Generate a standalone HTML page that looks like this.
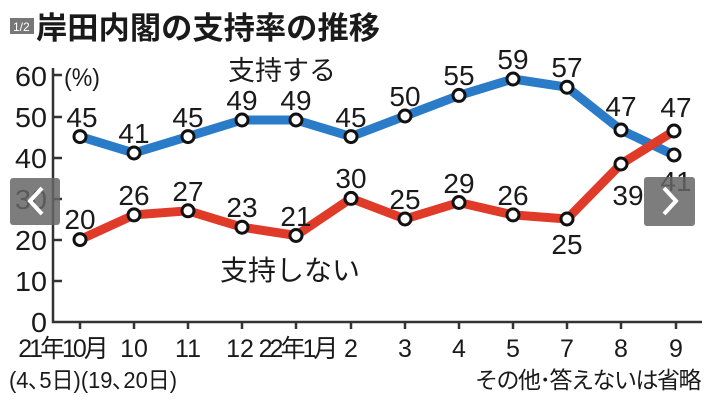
<!DOCTYPE html>
<html><head><meta charset="utf-8"><style>
body{margin:0;background:#fff;width:704px;height:401px;overflow:hidden}
text{font-family:"Liberation Sans","Noto Sans CJK JP",sans-serif;fill:#1a1a1a}
.j{font-family:"Liberation Sans","Noto Sans CJK JP",sans-serif}
</style></head><body>
<svg width="704" height="401" viewBox="0 0 704 401">
<text x="36" y="39" class="j" font-size="31" font-weight="bold" fill="#1a1a1a" textLength="344" lengthAdjust="spacingAndGlyphs">岸田内閣の支持率の推移</text>
<rect x="10" y="18" width="24" height="16" fill="#777"/><text x="13" y="31" font-size="12" style="fill:#fff">1/2</text>
<g stroke="#333" stroke-width="2.5" fill="none">
<path d="M53 68 V322 H702"/>
<path d="M53 75 H62 M53 117 H62 M53 158 H62 M53 199 H62 M53 240 H62 M53 281 H62"/>
<path d="M80 322v7M134 322v7M188 322v7M242 322v7M296 322v7M351 322v7M405 322v7M459 322v7M513 322v7M567 322v7M621 322v7M676 322v7"/>
</g>
<g font-size="28" text-anchor="end">
<text x="47" y="86" textLength="32" lengthAdjust="spacingAndGlyphs">60</text><text x="47" y="127" textLength="32" lengthAdjust="spacingAndGlyphs">50</text><text x="47" y="168" textLength="32" lengthAdjust="spacingAndGlyphs">40</text><text x="47" y="209" textLength="32" lengthAdjust="spacingAndGlyphs">30</text><text x="47" y="250" textLength="32" lengthAdjust="spacingAndGlyphs">20</text><text x="47" y="291" textLength="32" lengthAdjust="spacingAndGlyphs">10</text><text x="47" y="332" textLength="16" lengthAdjust="spacingAndGlyphs">0</text>
</g>
<text x="64" y="86" font-size="25" textLength="36" lengthAdjust="spacingAndGlyphs">(%)</text>
<text x="228" y="80" class="j" font-size="27">支持する</text>
<text x="220" y="280" class="j" font-size="28">支持しない</text>
<polyline fill="none" stroke="#2a7bc8" stroke-width="9" stroke-linejoin="round" points="80,136.6 134,153 188,136.6 242,120 296,120 351,136.6 405,116 459,95.4 513,79 567,87.2 621,130 674,155"/>
<polyline fill="none" stroke="#e03a28" stroke-width="9" stroke-linejoin="round" points="80,239.6 134,214.9 188,210.8 242,227.2 296,235.5 351,198.4 405,219 459,202.5 513,214.9 567,219 621,164 674,131"/>
<g fill="#fff" stroke="#111" stroke-width="3">
<circle cx="80" cy="136.6" r="6"/><circle cx="134" cy="153" r="6"/><circle cx="188" cy="136.6" r="6"/><circle cx="242" cy="120" r="6"/><circle cx="296" cy="120" r="6"/><circle cx="351" cy="136.6" r="6"/><circle cx="405" cy="116" r="6"/><circle cx="459" cy="95.4" r="6"/><circle cx="513" cy="79" r="6"/><circle cx="567" cy="87.2" r="6"/><circle cx="621" cy="130" r="6"/><circle cx="674" cy="155" r="6"/>
<circle cx="80" cy="239.6" r="6"/><circle cx="134" cy="214.9" r="6"/><circle cx="188" cy="210.8" r="6"/><circle cx="242" cy="227.2" r="6"/><circle cx="296" cy="235.5" r="6"/><circle cx="351" cy="198.4" r="6"/><circle cx="405" cy="219" r="6"/><circle cx="459" cy="202.5" r="6"/><circle cx="513" cy="214.9" r="6"/><circle cx="567" cy="219" r="6"/><circle cx="621" cy="164" r="6"/><circle cx="674" cy="131" r="6"/>
</g>
<g font-size="28" text-anchor="middle">
<text x="82" y="127">45</text><text x="134" y="143">41</text><text x="188" y="127">45</text><text x="242" y="110">49</text><text x="296" y="110">49</text><text x="351" y="127">45</text><text x="405" y="106">50</text><text x="459" y="85">55</text><text x="513" y="69">59</text><text x="567" y="77">57</text><text x="621" y="116">47</text><text x="676" y="191">41</text>
<text x="80" y="229">20</text><text x="134" y="205">26</text><text x="188" y="201">27</text><text x="242" y="217">23</text><text x="296" y="226">21</text><text x="351" y="188">30</text><text x="405" y="209">25</text><text x="459" y="193">29</text><text x="513" y="205">26</text><text x="567" y="254">25</text><text x="628" y="205">39</text><text x="676" y="117">47</text>
</g>
<g font-size="25" text-anchor="middle">
<text x="62" y="357" class="j" letter-spacing="-3">21年10月</text><text x="134" y="357">10</text><text x="188" y="357">11</text><text x="240" y="357">12</text><text x="297" y="357" class="j" letter-spacing="-3">22年1月</text><text x="351" y="357">2</text><text x="405" y="357">3</text><text x="459" y="357">4</text><text x="513" y="357">5</text><text x="567" y="357">7</text><text x="621" y="357">8</text><text x="676" y="357">9</text>
</g>
<text x="9" y="388" class="j" font-size="23" textLength="168" lengthAdjust="spacingAndGlyphs">(4､5日)(19､20日)</text>
<text x="700" y="388" class="j" font-size="23" text-anchor="end" letter-spacing="-1.5">その他･答えないは省略</text>
<rect x="10" y="178" width="50" height="47" rx="3" fill="#666" opacity="0.85"/>
<path d="M42 188 L30 201 L42 214" stroke="#fff" stroke-width="4" fill="none"/>
<rect x="644" y="177" width="51" height="49" rx="3" fill="#666" opacity="0.85"/>
<path d="M664 188 L676 201 L664 214" stroke="#fff" stroke-width="4" fill="none"/>
</svg>
</body></html>
